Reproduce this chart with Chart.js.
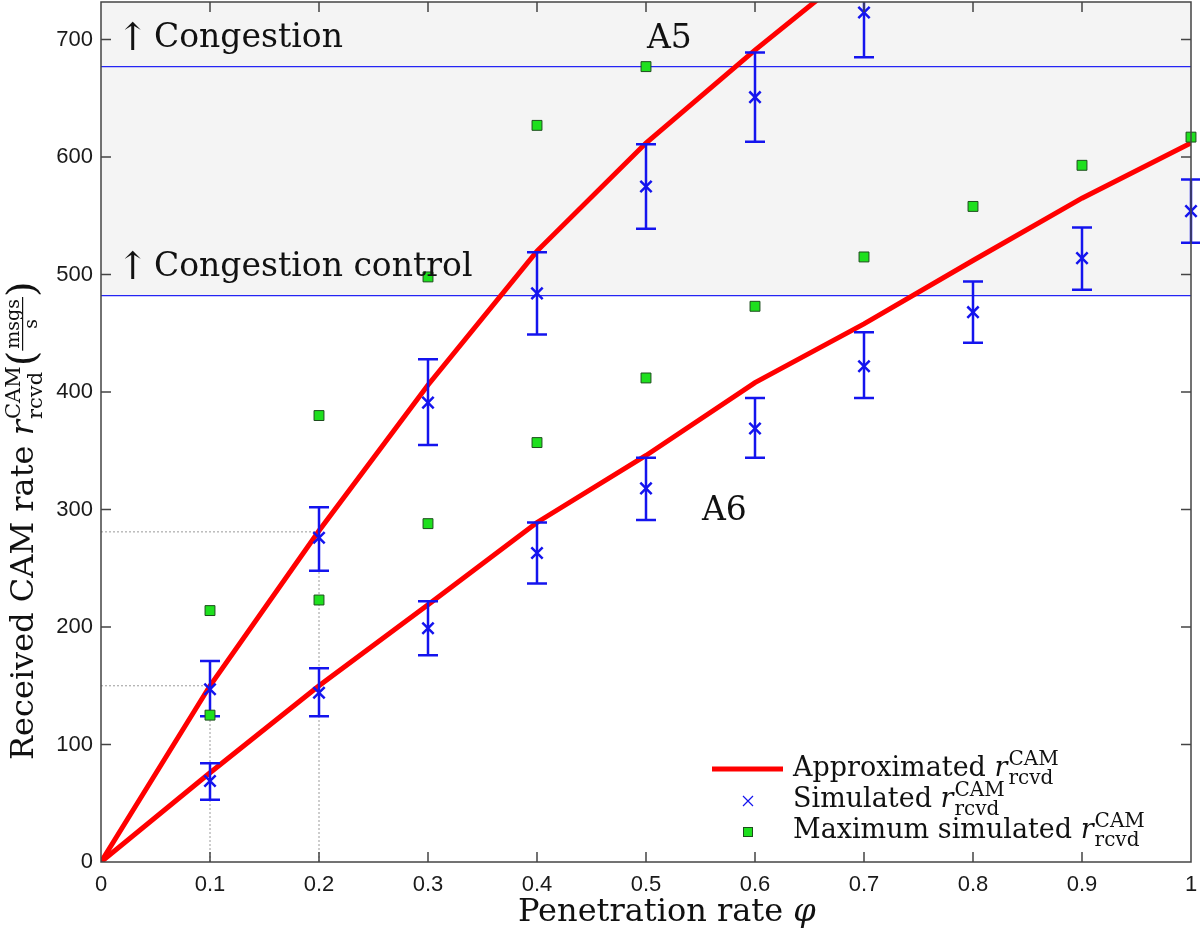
<!DOCTYPE html>
<html>
<head>
<meta charset="utf-8">
<script src="https://cdn.jsdelivr.net/npm/chart.js@4.4.1/dist/chart.umd.min.js"></script>
<style>
  html, body { margin: 0; padding: 0; background: #fff; }
  #wrap { width: 1200px; height: 933px; position: relative; }
</style>
</head>
<body>
<div id="wrap"><canvas id="chart"></canvas></div>
<script>
// ---- data ----
const xTicks = [0, 0.1, 0.2, 0.3, 0.4, 0.5, 0.6, 0.7, 0.8, 0.9, 1];
const yTicks = [0, 100, 200, 300, 400, 500, 600, 700];

// approximated curves
const xApproxA5 = [0, 0.1, 0.2, 0.3, 0.4, 0.5, 0.6, 0.7];
const approxA5 = [0, 150, 282, 406, 520, 612, 691, 766];
const xApproxA6 = [0, 0.1, 0.2, 0.3, 0.4, 0.5, 0.6, 0.7, 0.8, 0.9, 1.0];
const approxA6 = [0, 76, 150, 219, 289, 346, 408, 458, 512, 565, 612];

// simulated mean with error bars
const xSimA5 = [0.1, 0.2, 0.3, 0.4, 0.5, 0.6, 0.7];
const simA5 = [147, 276, 391, 484, 575, 651, 723];
const simA5Lo = [124, 248, 355, 449, 539, 613, 685];
const simA5Hi = [171, 302, 428, 519, 611, 689, 761];
const xSimA6 = [0.1, 0.2, 0.3, 0.4, 0.5, 0.6, 0.7, 0.8, 0.9, 1.0];
const simA6 = [69, 144, 199, 263, 318, 369, 422, 468, 514, 554];
const simA6Lo = [53, 124, 176, 237, 291, 344, 395, 442, 487, 527];
const simA6Hi = [84, 165, 222, 289, 344, 395, 451, 494, 540, 581];

// maximum simulated
const xMaxA5 = [0.1, 0.2, 0.3, 0.4, 0.5];
const maxA5 = [214, 380, 498, 627, 677];
const xMaxA6 = [0.1, 0.2, 0.3, 0.4, 0.5, 0.6, 0.7, 0.8, 0.9, 1.0];
const maxA6 = [125, 223, 288, 357, 412, 473, 515, 558, 593, 617];

// thresholds and guides
const thresholds = [482, 677];
const thresholdLabels = ['Congestion control', 'Congestion'];
const guideX = [0.1, 0.2];
const guideY = [150, 281];

const RED = '#ff0000';
const BLUE = '#1414ee';
const SERIF = '"DejaVu Serif", serif';
const SANS = '"Liberation Sans", Arial, sans-serif';

const pts = (xs, ys) => xs.map((x, i) => ({ x: x, y: ys[i] }));
const fmtX = (v) => (v === 0 || v === 1) ? String(v) : v.toFixed(1);

// draw a run of text pieces on one baseline, returns width
function rich(ctx, x, y, parts) {
  let cx = x;
  parts.forEach(p => {
    ctx.font = p.f;
    if (p.t !== undefined) {
      ctx.fillText(p.t, cx, y + (p.dy || 0));
      cx += ctx.measureText(p.t).width + (p.gap || 0);
    } else if (p.frac) {
      const wn = ctx.measureText(p.num).width;
      const wd = ctx.measureText(p.den).width;
      const w = Math.max(wn, wd) + 4;
      ctx.fillText(p.num, cx + (w - wn) / 2, y + p.mid - 4);
      ctx.fillText(p.den, cx + (w - wd) / 2, y + p.mid + 14);
      ctx.fillRect(cx, y + p.mid - 1, w, 1.2);
      cx += w;
    } else {
      const ws = ctx.measureText(p.sup).width;
      const wb = ctx.measureText(p.sub).width;
      ctx.fillText(p.sup, cx, y - p.up);
      ctx.fillText(p.sub, cx, y + p.dn);
      cx += Math.max(ws, wb) + (p.gap || 0);
    }
  });
  return cx - x;
}

function rcvd(size, scr) {
  return [
    { t: 'r', f: 'italic ' + size + 'px ' + SERIF, gap: 1 },
    { sup: 'CAM', sub: 'rcvd', f: scr + 'px ' + SERIF, up: Math.round(size * 0.42), dn: Math.round(size * 0.28) }
  ];
}

const decor = {
  id: 'decor',
  beforeDatasetsDraw(chart) {
    const { ctx, chartArea: a, scales: { x, y } } = chart;
    ctx.save();
    // shaded region above congestion control
    const yb = y.getPixelForValue(thresholds[0]);
    ctx.fillStyle = '#f4f4f4';
    ctx.fillRect(a.left, a.top, a.right - a.left, yb - a.top);
    // threshold lines
    ctx.strokeStyle = '#2424f4';
    ctx.lineWidth = 1.2;
    thresholds.forEach(v => {
      const py = y.getPixelForValue(v);
      ctx.beginPath();
      ctx.moveTo(a.left, py);
      ctx.lineTo(a.right, py);
      ctx.stroke();
    });
    // dotted guides
    ctx.strokeStyle = '#9a9a9a';
    ctx.lineWidth = 1;
    ctx.setLineDash([2, 2]);
    guideX.forEach((gx, i) => {
      const px = x.getPixelForValue(gx);
      const py = y.getPixelForValue(guideY[i]);
      ctx.beginPath();
      ctx.moveTo(px, y.getPixelForValue(0));
      ctx.lineTo(px, py);
      ctx.moveTo(x.getPixelForValue(0), py);
      ctx.lineTo(px, py);
      ctx.stroke();
    });
    ctx.restore();
  },
  afterDatasetDraw(chart, args) {
    const ds = chart.data.datasets[args.index];
    if (!ds.errLo) return;
    const { ctx, chartArea: a, scales: { x, y } } = chart;
    ctx.save();
    ctx.beginPath();
    ctx.rect(a.left - 15, a.top, a.right - a.left + 30, a.bottom - a.top);
    ctx.clip();
    ctx.strokeStyle = BLUE;
    ctx.lineWidth = 2.5;
    ds.data.forEach((p, i) => {
      const px = x.getPixelForValue(p.x);
      const lo = y.getPixelForValue(ds.errLo[i]);
      const hi = y.getPixelForValue(ds.errHi[i]);
      ctx.beginPath();
      ctx.moveTo(px, lo); ctx.lineTo(px, hi);
      ctx.moveTo(px - 10, lo); ctx.lineTo(px + 10, lo);
      ctx.moveTo(px - 10, hi); ctx.lineTo(px + 10, hi);
      ctx.stroke();
    });
    ctx.restore();
  },
  afterDraw(chart) {
    const { ctx, chartArea: a, scales: { x, y } } = chart;
    ctx.save();
    // box + inner ticks
    ctx.strokeStyle = '#444';
    ctx.lineWidth = 1.5;
    ctx.strokeRect(a.left, a.top, a.right - a.left, a.bottom - a.top);
    ctx.beginPath();
    xTicks.slice(1, -1).forEach(v => {
      const px = x.getPixelForValue(v);
      ctx.moveTo(px, a.bottom); ctx.lineTo(px, a.bottom - 10);
      ctx.moveTo(px, a.top); ctx.lineTo(px, a.top + 10);
    });
    yTicks.slice(1).forEach(v => {
      const py = y.getPixelForValue(v);
      ctx.moveTo(a.left, py); ctx.lineTo(a.left + 10, py);
      ctx.moveTo(a.right, py); ctx.lineTo(a.right - 10, py);
    });
    ctx.stroke();

    // tick labels
    ctx.fillStyle = '#1a1a1a';
    ctx.font = '22px ' + SANS;
    ctx.textBaseline = 'middle';
    ctx.textAlign = 'center';
    xTicks.forEach(v => ctx.fillText(fmtX(v), x.getPixelForValue(v), a.bottom + 23));
    ctx.textAlign = 'right';
    yTicks.forEach(v => ctx.fillText(String(v), a.left - 8, y.getPixelForValue(v)));

    ctx.fillStyle = '#111';
    ctx.textBaseline = 'alphabetic';
    ctx.textAlign = 'left';
    // threshold annotations
    thresholdLabels.forEach((lbl, i) => {
      const py = y.getPixelForValue(thresholds[i]);
      ctx.font = '38px ' + SERIF;
      ctx.fillText('\u2191', 117, py - 17);
      ctx.font = '33px ' + SERIF;
      ctx.fillText(lbl, 154, py - 20);
    });
    // curve labels
    ctx.font = '33px ' + SERIF;
    ctx.fillText('A5', 647, 48);
    ctx.fillText('A6', 702, 520);

    // x title
    rich(ctx, 518, 921, [
      { t: 'Penetration rate ', f: '32px ' + SERIF },
      { t: '\u03c6', f: 'italic 32px ' + SERIF }
    ]);

    // y title (rotated)
    const yParts = [{ t: 'Received CAM rate ', f: '32px ' + SERIF }]
      .concat(rcvd(32, 21))
      .concat([
        { t: '(', f: '40px ' + SERIF, dy: 2 },
        { frac: true, num: 'msgs', den: 's', f: '19px ' + SERIF, mid: -10 },
        { t: ')', f: '40px ' + SERIF, dy: 2 }
      ]);
    ctx.save();
    ctx.translate(33, 760);
    ctx.rotate(-Math.PI / 2);
    rich(ctx, 0, 0, yParts);
    ctx.restore();

    // legend
    ctx.strokeStyle = RED;
    ctx.lineWidth = 5;
    ctx.beginPath();
    ctx.moveTo(712, 769); ctx.lineTo(783, 769);
    ctx.stroke();
    ctx.strokeStyle = BLUE;
    ctx.lineWidth = 1.2;
    ctx.beginPath();
    ctx.moveTo(743, 796); ctx.lineTo(753, 806);
    ctx.moveTo(753, 796); ctx.lineTo(743, 806);
    ctx.stroke();
    ctx.fillStyle = '#1ee01e';
    ctx.fillRect(743.5, 827.5, 9, 9);
    ctx.strokeStyle = '#1d4d1d';
    ctx.lineWidth = 1;
    ctx.strokeRect(743.5, 827.5, 9, 9);
    ctx.fillStyle = '#111';
    const lf = '27px ' + SERIF;
    rich(ctx, 793, 776, [{ t: 'Approximated ', f: lf }].concat(rcvd(27, 20)));
    rich(ctx, 793, 807, [{ t: 'Simulated ', f: lf }].concat(rcvd(27, 20)));
    rich(ctx, 793, 838, [{ t: 'Maximum simulated ', f: lf }].concat(rcvd(27, 20)));
    ctx.restore();
  }
};

new Chart(document.getElementById('chart'), {
  type: 'scatter',
  data: {
    datasets: [
      {
        label: 'Maximum simulated',
        data: pts(xMaxA5, maxA5).concat(pts(xMaxA6, maxA6)),
        pointStyle: 'rect',
        pointRadius: 7,
        backgroundColor: '#1ee01e',
        borderColor: '#1d4d1d',
        borderWidth: 1,
        clip: false,
        order: 0
      },
      {
        label: 'Simulated A5',
        data: pts(xSimA5, simA5),
        errLo: simA5Lo,
        errHi: simA5Hi,
        pointStyle: 'crossRot',
        pointRadius: 8,
        borderColor: BLUE,
        borderWidth: 2.5,
        clip: false,
        order: 1
      },
      {
        label: 'Simulated A6',
        data: pts(xSimA6, simA6),
        errLo: simA6Lo,
        errHi: simA6Hi,
        pointStyle: 'crossRot',
        pointRadius: 8,
        borderColor: BLUE,
        borderWidth: 2.5,
        clip: false,
        order: 1
      },
      {
        label: 'Approximated A5',
        data: pts(xApproxA5, approxA5),
        showLine: true,
        pointRadius: 0,
        borderColor: RED,
        borderWidth: 5,
        order: 2
      },
      {
        label: 'Approximated A6',
        data: pts(xApproxA6, approxA6),
        showLine: true,
        pointRadius: 0,
        borderColor: RED,
        borderWidth: 5,
        order: 2
      }
    ]
  },
  options: {
    responsive: true,
    maintainAspectRatio: false,
    animation: false,
    layout: { autoPadding: false, padding: { top: 2, right: 9, left: 0, bottom: 0 } },
    plugins: {
      legend: { display: false },
      tooltip: { enabled: false }
    },
    scales: {
      x: {
        type: 'linear',
        min: 0,
        max: 1,
        afterBuildTicks: (s) => { s.ticks = xTicks.map(v => ({ value: v })); },
        afterFit: (s) => { s.height = 71; s.paddingLeft = 0; s.paddingRight = 0; },
        grid: { display: false },
        border: { display: false },
        ticks: { display: false }
      },
      y: {
        type: 'linear',
        min: 0,
        max: 732,
        afterBuildTicks: (s) => { s.ticks = yTicks.map(v => ({ value: v })); },
        afterFit: (s) => { s.width = 101; s.paddingTop = 0; s.paddingBottom = 0; },
        grid: { display: false },
        border: { display: false },
        ticks: { display: false }
      }
    }
  },
  plugins: [decor]
});
</script>
</body>
</html>
